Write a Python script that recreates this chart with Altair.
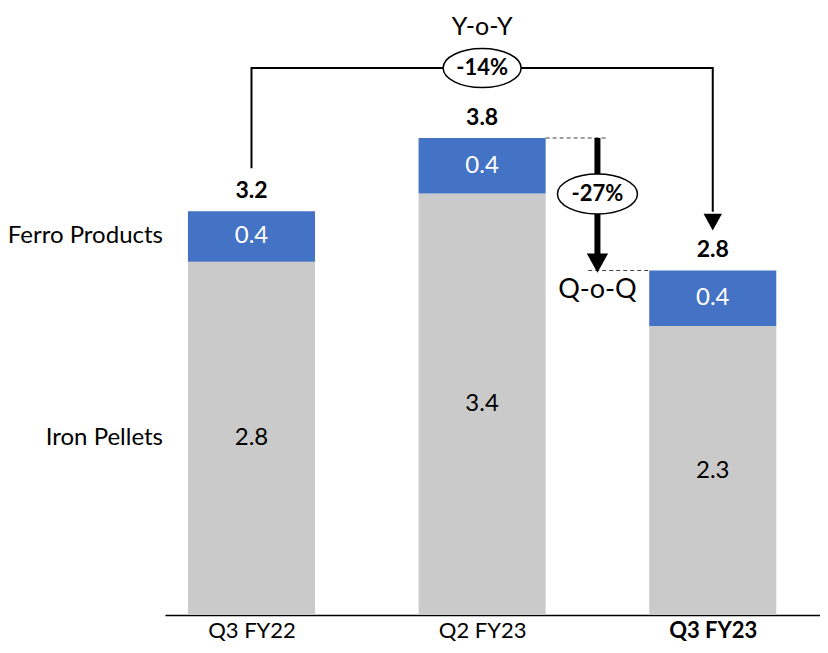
import altair as alt
import pandas as pd

# ---------------- data ----------------
periods = ["Q3 FY22", "Q2 FY23", "Q3 FY23"]
segments = ["Iron Pellets", "Ferro Products"]
iron_pellets = [2.80, 3.34, 2.29]
ferro_products = [0.40, 0.44, 0.44]
iron_labels = ["2.8", "3.4", "2.3"]
ferro_labels = ["0.4", "0.4", "0.4"]
total_labels = ["3.2", "3.8", "2.8"]
yoy_label = "-14%"
qoq_label = "-27%"
yoy_title = "Y-o-Y"
qoq_title = "Q-o-Q"

# ---------------- layout helpers ----------------
FONT = "Lato"
HW = 0.2755                      # half bar width (x units)
XDOM = [-0.375, 2.465]
YDOM = [0, 4.81]
W, H = 655, 607

xs = alt.Scale(domain=XDOM, nice=False, zero=False)
ys = alt.Scale(domain=YDOM, nice=False, zero=False)
last = len(periods) - 1
label_expr = "[" + ",".join("'%s'" % p for p in periods) + "][datum.value]"
xaxis = alt.Axis(values=list(range(len(periods))), labelExpr=label_expr, ticks=False,
                 grid=False, domainColor="black", domainWidth=1.5, title=None,
                 labelFont=FONT, labelFontSize=22, labelColor="black", labelPadding=5,
                 labelFontWeight=alt.condition("datum.value == %d" % last,
                                               alt.value("bold"), alt.value("normal")))


def X(f):
    return alt.X(f, type="quantitative", scale=xs, axis=xaxis)


def Y(f):
    return alt.Y(f, type="quantitative", scale=ys, axis=None)


# segments table
rows = []
for i, p in enumerate(periods):
    base = 0.0
    for seg, vals, labs in [(segments[0], iron_pellets, iron_labels),
                            (segments[1], ferro_products, ferro_labels)]:
        v = vals[i]
        rows.append(dict(period=p, idx=i, x0=i - HW, x1=i + HW, y0=base, y1=base + v,
                         ymid=base + v / 2, segment=seg, label=labs[i]))
        base += v
seg_df = pd.DataFrame(rows)
totals = [a + b for a, b in zip(iron_pellets, ferro_products)]
tot_df = pd.DataFrame(dict(idx=list(range(len(periods))), total=totals, label=total_labels))

bars = alt.Chart(seg_df).mark_rect().encode(
    x=X("x0"), x2="x1", y=Y("y0"), y2="y1",
    color=alt.Color("segment:N", scale=alt.Scale(domain=segments, range=["#CACACA", "#4472C4"]),
                    legend=None),
)
iron_text = alt.Chart(seg_df).transform_filter(alt.datum.segment == segments[0]).mark_text(
    font=FONT, fontSize=24, color="black").encode(x=X("idx"), y=Y("ymid"), text="label:N")
ferro_text = alt.Chart(seg_df).transform_filter(alt.datum.segment == segments[1]).mark_text(
    font=FONT, fontSize=24, color="white").encode(x=X("idx"), y=Y("ymid"), text="label:N")
tot_text = alt.Chart(tot_df).mark_text(font=FONT, fontSize=23, fontWeight="bold", color="black",
                                       dy=-20).encode(x=X("idx"), y=Y("total"), text="label:N")

first = seg_df[seg_df.idx == 0].copy()
first["lx"] = XDOM[0]
legend_text = alt.Chart(first).mark_text(font=FONT, fontSize=24, align="right", dx=-2,
                                         color="black").encode(x=X("lx"), y=Y("ymid"), text="segment:N")

# ---------------- Y-o-Y bracket ----------------
bracket_y = 4.334
yoy_start = 3.54
yoy_tip = totals[2] + 0.34
head = 0.125
bracket_df = pd.DataFrame(dict(bx=[0, 0, 2, 2], by=[yoy_start, bracket_y, bracket_y, yoy_tip + head],
                               o=[0, 1, 2, 3]))
bracket = alt.Chart(bracket_df).mark_line(color="black", strokeWidth=2).encode(
    x=X("bx"), y=Y("by"), order="o:Q")

TRI = "M-1,-0.9L1,-0.9L0,0.9Z"
ELL = "M-1,0A1,0.5 0 1,1 1,0A1,0.5 0 1,1 -1,0Z"

yoy_head = alt.Chart(pd.DataFrame(dict(hx=[2], hy=[yoy_tip]))).mark_point(
    shape=TRI, size=225, filled=True, fill="black", stroke="black", opacity=1, yOffset=-6
).encode(x=X("hx"), y=Y("hy"))

yoy_ell = alt.Chart(pd.DataFrame(dict(ex=[1], ey=[bracket_y], t=[yoy_label]))).mark_point(
    shape=ELL, size=6084, filled=True, fill="white", stroke="black", strokeWidth=1.5, opacity=1
).encode(x=X("ex"), y=Y("ey"))
yoy_pct = alt.Chart(pd.DataFrame(dict(ex=[1], ey=[bracket_y], t=[yoy_label]))).mark_text(
    font=FONT, fontSize=22, fontWeight="bold", color="black").encode(x=X("ex"), y=Y("ey"), text="t:N")
yoy_ttl = alt.Chart(pd.DataFrame(dict(ex=[1], ey=[4.662], t=[yoy_title]))).mark_text(
    font=FONT, fontSize=25, color="black").encode(x=X("ex"), y=Y("ey"), text="t:N")

# ---------------- Q-o-Q arrow ----------------
qx = 1.5
q_top = totals[1]
q_tip = totals[2]
shaft = alt.Chart(pd.DataFrame(dict(sx=[qx], sy=[q_top], sy2=[q_tip + 0.12]))).mark_rule(
    color="black", strokeWidth=6).encode(x=X("sx"), y=Y("sy"), y2="sy2")
q_head = alt.Chart(pd.DataFrame(dict(hx=[qx], hy=[q_tip]))).mark_point(
    shape=TRI, size=324, filled=True, fill="black", stroke="black", opacity=1, yOffset=-8
).encode(x=X("hx"), y=Y("hy"))
dash_df = pd.DataFrame(dict(dx0=[1 + HW, 1.46], dx1=[1.546, 2 - HW], dy=[q_top, q_tip]))
dashes = alt.Chart(dash_df).mark_rule(color="#404040", strokeWidth=1, strokeDash=[4, 3]).encode(
    x=X("dx0"), x2="dx1", y=Y("dy"))
q_mid = 3.336
q_ell = alt.Chart(pd.DataFrame(dict(ex=[qx], ey=[q_mid]))).mark_point(
    shape=ELL, size=6400, filled=True, fill="white",
    stroke="black", strokeWidth=1.5, opacity=1).encode(x=X("ex"), y=Y("ey"))
q_pct = alt.Chart(pd.DataFrame(dict(ex=[qx], ey=[q_mid], t=[qoq_label]))).mark_text(
    font=FONT, fontSize=22, fontWeight="bold", color="black").encode(x=X("ex"), y=Y("ey"), text="t:N")
q_ttl = alt.Chart(pd.DataFrame(dict(ex=[qx], ey=[2.575], t=[qoq_title]))).mark_text(
    font=FONT, fontSize=27, color="black").encode(x=X("ex"), y=Y("ey"), text="t:N")

chart = alt.layer(
    bars, iron_text, ferro_text, tot_text, legend_text,
    dashes, bracket, yoy_head, yoy_ell, yoy_pct, yoy_ttl,
    shaft, q_head, q_ell, q_pct, q_ttl,
).properties(
    width=W, height=H,
    autosize=alt.AutoSizeParams(type="none"),
    padding={"left": 157, "top": 0, "right": 0, "bottom": 26},
    background="white",
).configure_view(stroke=None)

chart.save("out.html", embed_options={"renderer": "svg", "actions": False})
